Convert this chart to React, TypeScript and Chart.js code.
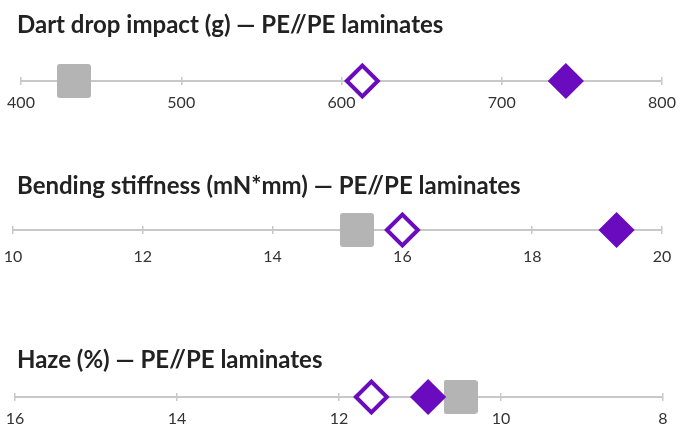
import React, { useEffect, useRef } from 'react';
import { Chart, registerables } from 'chart.js';

Chart.register(...registerables);

// ---- data ----
const seriesNames = ['Reference laminate', 'Solution A', 'Solution B'];
const panelTitles = [
  'Dart drop impact (g) — PE//PE laminates',
  'Bending stiffness (mN*mm) — PE//PE laminates',
  'Haze (%) — PE//PE laminates',
];
const dartDropValues = [433, 613, 740];
const stiffnessValues = [15.3, 16.0, 19.3];
const hazeValues = [10.5, 11.6, 10.9];
const dartDropTicks = [400, 500, 600, 700, 800];
const stiffnessTicks = [10, 12, 14, 16, 18, 20];
const hazeTicks = [16, 14, 12, 10, 8];

// ---- styles ----
const PURPLE = '#6b0bbf';
const GRAY = '#b4b4b4';
const LINE = '#c8c8c8';
const FONT = 'Lato, "Open Sans", sans-serif';
const TITLE_SIZE = 24;
const TICK_SIZE = 16;

type PanelLayout = {
  top: number;
  titlePadTop: number;
  titlePadBottom: number;
  tickPad: number;
  padLeft: number;
  padRight: number;
  reverse: boolean;
};

const layouts: PanelLayout[] = [
  { top: 0, titlePadTop: 10.6, titlePadBottom: 37.6, tickPad: 8, padLeft: 21, padRight: 27, reverse: false },
  { top: 161, titlePadTop: 10.6, titlePadBottom: 25.6, tickPad: 13, padLeft: 13, padRight: 27, reverse: false },
  { top: 335, titlePadTop: 10.6, titlePadBottom: 18.6, tickPad: 8, padLeft: 15, padRight: 26, reverse: true },
];

function makeSquare(size: number, radius: number, color: string) {
  const c = document.createElement('canvas');
  c.width = size;
  c.height = size;
  const ctx = c.getContext('2d')!;
  ctx.fillStyle = color;
  ctx.beginPath();
  (ctx as any).roundRect(0, 0, size, size, radius);
  ctx.fill();
  return c;
}

const titleShift = {
  id: 'titleShift',
  afterLayout(chart: any) {
    if (chart.titleBlock) chart.titleBlock.left = 17;
  },
};

function Panel({ title, values, ticks, layout }: { title: string; values: number[]; ticks: number[]; layout: PanelLayout }) {
  const ref = useRef<HTMLCanvasElement | null>(null);
  const titleBox = layout.titlePadTop + TITLE_SIZE * 1.2 + layout.titlePadBottom;
  const areaH = 4;
  const axisH = 4 + 2 * layout.tickPad + TICK_SIZE * 1.2;
  const used = titleBox + areaH + axisH;
  const H = Math.ceil(used) + 4;

  useEffect(() => {
    if (!ref.current) return;
    const square = makeSquare(34, 3, GRAY);
    const minV = Math.min(...ticks);
    const maxV = Math.max(...ticks);
    const chart = new Chart(ref.current, {
      type: 'scatter',
      data: {
        datasets: [
          {
            label: seriesNames[2],
            data: [{ x: values[2], y: 0 }],
            pointStyle: 'rectRot',
            pointRadius: 16,
            pointHoverRadius: 16,
            backgroundColor: PURPLE,
            borderColor: PURPLE,
            borderWidth: 3,
            clip: false as any,
          },
          {
            label: seriesNames[1],
            data: [{ x: values[1], y: 0 }],
            pointStyle: 'rectRot',
            pointRadius: 15.5,
            pointHoverRadius: 15.5,
            backgroundColor: '#ffffff',
            borderColor: PURPLE,
            borderWidth: 4,
            clip: false as any,
          },
          {
            label: seriesNames[0],
            data: [{ x: values[0], y: 0 }],
            pointStyle: square as any,
            pointRadius: 17,
            pointHoverRadius: 17,
            backgroundColor: GRAY,
            borderWidth: 0,
            clip: false as any,
          },
        ],
      },
      options: {
        responsive: false,
        animation: false,
        events: [],
        layout: { autoPadding: false, padding: { left: 0, right: 0, top: 0, bottom: H - used } },
        plugins: {
          legend: { display: false },
          tooltip: { enabled: false },
          title: {
            display: true,
            text: title,
            align: 'start',
            color: '#222222',
            font: { family: FONT, size: TITLE_SIZE, weight: 'bold' },
            padding: { top: layout.titlePadTop, bottom: layout.titlePadBottom },
          },
        },
        scales: {
          x: {
            type: 'linear',
            min: minV,
            max: maxV,
            reverse: layout.reverse,
            afterBuildTicks: (scale: any) => {
              scale.ticks = ticks.map((v) => ({ value: v }));
            },
            afterFit: (scale: any) => {
              scale.paddingLeft = layout.padLeft;
              scale.paddingRight = layout.padRight;
            },
            grid: {
              display: true,
              drawOnChartArea: true,
              drawTicks: true,
              tickLength: 4,
              color: LINE,
              lineWidth: 1.5,
            },
            border: { display: true, color: LINE, width: 2 },
            ticks: {
              padding: layout.tickPad,
              color: '#333333',
              font: { family: FONT, size: TICK_SIZE },
              maxRotation: 0,
              autoSkip: false,
              callback: (v: any) => String(v),
            },
          },
          y: {
            type: 'linear',
            display: false,
            min: 0,
            max: 1,
          },
        },
      },
      plugins: [titleShift],
    });
    return () => chart.destroy();
  }, []);

  return (
    <canvas
      ref={ref}
      width={689}
      height={H}
      style={{ position: 'absolute', left: 0, top: layout.top, display: 'block' }}
    />
  );
}

export default function App() {
  return (
    <div style={{ position: 'absolute', left: 0, top: 0, width: 689, height: 424, background: '#ffffff', overflow: 'hidden' }}>
      <Panel title={panelTitles[0]} values={dartDropValues} ticks={dartDropTicks} layout={layouts[0]} />
      <Panel title={panelTitles[1]} values={stiffnessValues} ticks={stiffnessTicks} layout={layouts[1]} />
      <Panel title={panelTitles[2]} values={hazeValues} ticks={hazeTicks} layout={layouts[2]} />
    </div>
  );
}
